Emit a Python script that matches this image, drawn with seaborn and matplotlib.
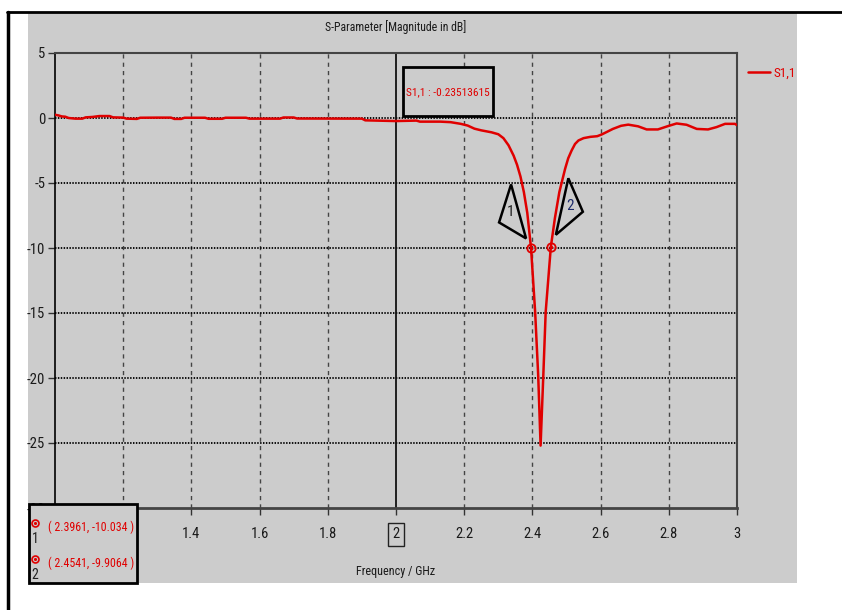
import matplotlib
matplotlib.use("Agg")
import matplotlib.pyplot as plt
import seaborn as sns
import pandas as pd
from matplotlib.patches import Rectangle, Polygon
from matplotlib.transforms import ScaledTranslation

# Datos (S1,1 en dB)
freq = [1.000, 1.010, 1.020, 1.030, 1.040, 1.060, 1.080, 1.090, 1.110, 1.130,
        1.160, 1.170, 1.200, 1.210, 1.240, 1.250, 1.300, 1.340, 1.350, 1.370,
        1.380, 1.440, 1.450, 1.490, 1.500, 1.560, 1.570, 1.660, 1.670, 1.700,
        1.710, 1.900, 1.910, 2.000, 2.060, 2.070, 2.130, 2.160, 2.190, 2.210,
        2.230, 2.250, 2.280, 2.300, 2.315, 2.330, 2.345, 2.355, 2.365, 2.375,
        2.385, 2.3961, 2.408, 2.417, 2.424, 2.432, 2.439, 2.4541, 2.466, 2.479,
        2.496, 2.505, 2.515, 2.525, 2.535, 2.550, 2.570, 2.590, 2.603, 2.620,
        2.636, 2.660, 2.681, 2.710, 2.735, 2.768, 2.798, 2.823, 2.852, 2.882,
        2.915, 2.940, 2.965, 2.994, 3.000]
s11 = [0.25, 0.20, 0.12, 0.10, 0.00, -0.05, -0.05, 0.05, 0.08, 0.15,
       0.15, 0.05, 0.03, -0.05, -0.07, 0.02, 0.03, 0.03, -0.07, -0.07,
       0.02, 0.02, -0.06, -0.06, 0.02, 0.02, -0.05, -0.05, 0.04, 0.04,
       -0.04, -0.05, -0.18, -0.235, -0.20, -0.28, -0.28, -0.32, -0.45, -0.58,
       -0.82, -0.95, -1.10, -1.25, -1.55, -2.10, -2.90, -3.60, -4.50, -5.70,
       -7.30, -10.034, -14.9, -19.8, -25.2, -19.8, -14.9, -9.9064, -7.70, -5.70,
       -3.90, -3.10, -2.50, -2.00, -1.73, -1.55, -1.45, -1.40, -1.27, -1.05,
       -0.84, -0.60, -0.51, -0.64, -0.88, -0.88, -0.62, -0.42, -0.52, -0.84,
       -0.88, -0.70, -0.45, -0.45, -0.55]

marker_x = [2.3961, 2.4541]
marker_y = [-10.034, -9.9064]
marker_names = ["1", "2"]
cursor_x = 2.0
cursor_text = "S1,1 : -0.23513615"

x_ticks = [1.0, 1.2, 1.4, 1.6, 1.8, 2.0, 2.2, 2.4, 2.6, 2.8, 3.0]
x_labels = ["1", "1.2", "1.4", "1.6", "1.8", "2", "2.2", "2.4", "2.6", "2.8", "3"]
y_ticks = [5, 0, -5, -10, -15, -20, -25, -30]

df = pd.DataFrame({"Frecuencia": freq, "S11": s11})

sns.set_theme(style="ticks")
plt.rcParams['font.family'] = ['Roboto Condensed', 'DejaVu Sans']
plt.rcParams['axes.unicode_minus'] = False

gris = "#cccccc"
rojo = "#e00000"

fig = plt.figure(figsize=(8.42, 6.10), dpi=100)
fig.patch.set_facecolor("white")

# Panel gris y bordes negros
fig.patches.append(Rectangle((28/842, 1-583/610), 769/842, 571/610,
                             transform=fig.transFigure, facecolor=gris,
                             edgecolor="none", zorder=-5))
fig.add_artist(plt.Line2D([7/842, 1], [1-12/610, 1-12/610], color="black",
                          lw=2, transform=fig.transFigure))
fig.add_artist(plt.Line2D([7.5/842, 7.5/842], [1-12/610, 0], color="black",
                          lw=2.5, transform=fig.transFigure))

ax = fig.add_axes([55/842, 1-508/610, 682/842, 455/610])
ax.set_facecolor(gris)

sns.lineplot(data=df, x="Frecuencia", y="S11", ax=ax, color=rojo, lw=1.8,
             estimator=None, sort=False, label="S1,1", legend=False, zorder=4)

ax.set_xlim(1.0, 3.0)
ax.set_ylim(-30, 5)
ax.set_xticks(x_ticks)
ax.set_xticklabels(x_labels)
ax.set_yticks(y_ticks)
ax.tick_params(axis="both", labelsize=10.5, length=5, width=1, color="#333333",
               labelcolor="#1a1a1a")
ax.tick_params(axis="x", pad=9)
ax.tick_params(axis="y", pad=2)

# Rejilla
for xv in x_ticks[1:-1]:
    if xv != cursor_x:
        ax.axvline(xv, color="#444444", lw=1, dashes=(3, 3), zorder=1)
for yv in y_ticks[1:-1]:
    ax.axhline(yv, color="black", lw=1.3, dashes=(0.8, 0.8), zorder=1)
ax.axvline(cursor_x, color="#111111", lw=1.3, zorder=2)

for s in ["top", "right", "bottom"]:
    ax.spines[s].set_color("#444444")
ax.spines["left"].set_color("black")
ax.spines["top"].set_linewidth(1.5)
ax.spines["right"].set_linewidth(1.5)
ax.spines["bottom"].set_linewidth(2)
ax.spines["left"].set_linewidth(1.2)

ax.set_xlabel("")
ax.set_ylabel("")
fig.text(396/842, 1-571/610, "Frequency / GHz", ha="center", va="center",
         fontsize=8.7, color="#1a1a1a")
fig.text(396/842, 1-27/610, "S-Parameter [Magnitude in dB]", ha="center",
         va="center", fontsize=8.5, color="#1a1a1a")

# Marcadores sobre la curva
ax.plot(marker_x, marker_y, ls="none", marker="o", ms=6, mfc="none",
        mec=rojo, mew=1.3, zorder=5)
ax.plot(marker_x, marker_y, ls="none", marker=".", ms=3, color=rojo, zorder=5)

tri_offsets = [[(-5, 10), (-20, 64), (-32, 26)], [(5, 12), (17.5, 68.5), (32, 35)]]
num_offsets = [(-21, 36), (19, 41)]
num_colors = ["#222222", "#1c2a6b"]
for mx, my, name, tri, num, nc in zip(marker_x, marker_y, marker_names,
                                      tri_offsets, num_offsets, num_colors):
    tr = fig.dpi_scale_trans + ScaledTranslation(mx, my, ax.transData)
    verts = [(px/100, py/100) for px, py in tri]
    ax.add_patch(Polygon(verts, closed=True, facecolor="none", edgecolor="black",
                         lw=1.8, transform=tr, zorder=6, clip_on=False))
    ax.text(num[0]/100, num[1]/100, name, transform=tr, ha="center", va="center",
            fontsize=11, color=nc, zorder=7)

# Caja del cursor
fig.patches.append(Rectangle((403/842, 1-116/610), 90/842, 49/610,
                             transform=fig.transFigure, facecolor=gris,
                             edgecolor="black", lw=2, zorder=5))
fig.text(448/842, 1-92/610, cursor_text, ha="center", va="center",
         fontsize=8.2, color=rojo, zorder=6)

# Leyenda
fig.legend(loc="center left", bbox_to_anchor=(748/842, 1-73/610),
           frameon=False, fontsize=9.5, handlelength=1.7, handletextpad=0.25,
           borderpad=0, borderaxespad=0, labelcolor="linecolor")

# Caja con los valores de los marcadores
fig.patches.append(Rectangle((29/842, 1-583/610), 108/842, 79/610,
                             transform=fig.transFigure, facecolor=gris,
                             edgecolor="black", lw=2, zorder=5))
rows_y = [527, 563]
for mx, my, name, ry in zip(marker_x, marker_y, marker_names, rows_y):
    fig.add_artist(plt.Line2D([35/842], [1-(ry-4)/610], ls="none", marker="o",
                              ms=5, mfc="none", mec=rojo, mew=1.2,
                              transform=fig.transFigure, zorder=7))
    fig.add_artist(plt.Line2D([35/842], [1-(ry-4)/610], ls="none", marker=".",
                              ms=2.5, color=rojo, transform=fig.transFigure, zorder=7))
    fig.text(35/842, 1-(ry+12)/610, name, ha="center", va="center",
             fontsize=10, color="#222222", zorder=7)
    fig.text(91/842, 1-ry/610, f"( {mx}, {my} )", ha="center", va="center",
             fontsize=8.6, color=rojo, zorder=7)

# Etiquetas tapadas por la caja de marcadores, y caja alrededor de "2"
for lab in ax.get_xticklabels():
    if lab.get_text() in ("1", "1.2"):
        lab.set_visible(False)
    if lab.get_text() == "2":
        lab.set_bbox(dict(facecolor="none", edgecolor="#222222", lw=1, pad=3))

fig.savefig("out.png", dpi=100)
